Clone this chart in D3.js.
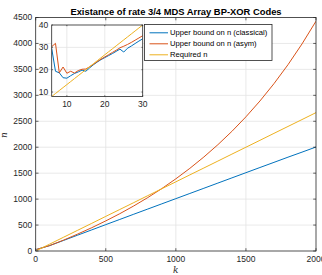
<!DOCTYPE html>
<html><head><meta charset="utf-8">
<script src="https://cdn.jsdelivr.net/npm/d3@7"></script>
<style>html,body{margin:0;padding:0;background:#fff;}svg{display:block;}</style>
</head><body>
<script>
// ---- data ----
const title = "Existance of rate 3/4 MDS Array BP-XOR Codes";
const seriesNames = ["Upper bound on n (classical)", "Upper bound on n (asym)", "Required n"];
const colors = ["#0072BD", "#D95319", "#EDB120"];

const kMain = [6, 100, 200, 300, 400, 500, 600, 700, 800, 900, 1000, 1100, 1200, 1300, 1400, 1500, 1600, 1700, 1800, 1900, 2000];
const classicalMain = [30, 104, 205, 306, 407, 508, 608, 709, 809, 909, 1009, 1109, 1209, 1309, 1409, 1509, 1609, 1708, 1808, 1905, 2004];
const asymMain = [30, 105, 211, 327, 449, 580, 719, 869, 1030, 1203, 1391, 1593, 1812, 2049, 2306, 2586, 2891, 3225, 3590, 3990, 4429];
const requiredMain = [8, 133, 267, 400, 533, 667, 800, 933, 1067, 1200, 1333, 1467, 1600, 1733, 1867, 2000, 2133, 2267, 2400, 2533, 2667];

const kInset = [6, 7, 8, 9, 10, 11, 12, 13, 14, 15, 16, 17, 18, 19, 20, 21, 22, 23, 24, 25, 26, 27, 28, 29, 30];
const classicalInset = [29.5, 19.3, 18.6, 16.4, 16.2, 17.3, 18.3, 19.0, 19.8, 19.3, 20.8, 22.2, 23.4, 24.5, 25.4, 26.3, 27.2, 28.2, 29.2, 27.9, 29.6, 30.6, 31.7, 32.8, 33.8];
const asymInset = [30.3, 31.8, 18.6, 21.2, 18.4, 19.3, 18.5, 19.6, 20.2, 20.3, 21.3, 22.4, 23.6, 24.7, 25.7, 26.7, 27.7, 28.7, 29.8, 30.5, 31.3, 32.2, 33.2, 34.2, 35.2];
const requiredInset = [8, 9.33, 10.67, 12, 13.33, 14.67, 16, 17.33, 18.67, 20, 21.33, 22.67, 24, 25.33, 26.67, 28, 29.33, 30.67, 32, 33.33, 34.67, 36, 37.33, 38.67, 40];

const xTicksMain = [0, 500, 1000, 1500, 2000];
const yTicksMain = [0, 500, 1000, 1500, 2000, 2500, 3000, 3500, 4000, 4500];
const xTicksInset = [10, 20, 30];
const yTicksInset = [10, 20, 30, 40];

// ---- layout ----
const W = 322, H = 275;
const axisColor = "#262626", gridColor = "#e3e3e3";
const svg = d3.select("body").append("svg").attr("width", W).attr("height", H)
  .style("font-family", "'Liberation Sans', Arial, Helvetica, sans-serif");

function drawAxes(g, box, xDomain, yDomain, xTicks, yTicks, tickLen, seriesList, kArr, fs) {
  const x = d3.scaleLinear().domain(xDomain).range([box.x0, box.x1]);
  const y = d3.scaleLinear().domain(yDomain).range([box.y1, box.y0]);
  g.append("rect").attr("x", box.x0).attr("y", box.y0)
    .attr("width", box.x1 - box.x0).attr("height", box.y1 - box.y0).attr("fill", "#fff");
  // grid
  g.append("g").selectAll("line").data(xTicks.filter(t => x(t) > box.x0 + 0.5 && x(t) < box.x1 - 0.5)).join("line")
    .attr("x1", d => x(d)).attr("x2", d => x(d)).attr("y1", box.y0).attr("y2", box.y1)
    .attr("stroke", gridColor).attr("stroke-width", 0.8);
  g.append("g").selectAll("line").data(yTicks.filter(t => y(t) > box.y0 + 0.5 && y(t) < box.y1 - 0.5)).join("line")
    .attr("y1", d => y(d)).attr("y2", d => y(d)).attr("x1", box.x0).attr("x2", box.x1)
    .attr("stroke", gridColor).attr("stroke-width", 0.8);
  // lines
  const clipId = "clip" + Math.round(box.x0);
  g.append("clipPath").attr("id", clipId).append("rect")
    .attr("x", box.x0).attr("y", box.y0).attr("width", box.x1 - box.x0).attr("height", box.y1 - box.y0);
  const line = d3.line().x(d => x(d[0])).y(d => y(d[1]));
  seriesList.forEach((s, i) => {
    g.append("path").datum(kArr.map((k, j) => [k, s[j]]))
      .attr("d", line).attr("fill", "none").attr("stroke", colors[i]).attr("stroke-width", 1)
      .attr("clip-path", `url(#${clipId})`);
  });
  // ticks inside, all four sides
  const tk = g.append("g").attr("stroke", axisColor).attr("stroke-width", 0.7);
  xTicks.forEach(t => {
    tk.append("line").attr("x1", x(t)).attr("x2", x(t)).attr("y1", box.y1).attr("y2", box.y1 - tickLen);
    tk.append("line").attr("x1", x(t)).attr("x2", x(t)).attr("y1", box.y0).attr("y2", box.y0 + tickLen);
  });
  yTicks.forEach(t => {
    tk.append("line").attr("y1", y(t)).attr("y2", y(t)).attr("x1", box.x0).attr("x2", box.x0 + tickLen);
    tk.append("line").attr("y1", y(t)).attr("y2", y(t)).attr("x1", box.x1).attr("x2", box.x1 - tickLen);
  });
  // box
  g.append("rect").attr("x", box.x0).attr("y", box.y0)
    .attr("width", box.x1 - box.x0).attr("height", box.y1 - box.y0)
    .attr("fill", "none").attr("stroke", axisColor).attr("stroke-width", 0.8);
  // tick labels
  g.append("g").selectAll("text").data(xTicks).join("text")
    .attr("x", d => x(d)).attr("y", box.y1 + 10.5).attr("text-anchor", "middle")
    .attr("font-size", fs).attr("fill", axisColor).text(d => d);
  g.append("g").selectAll("text").data(yTicks).join("text")
    .attr("x", box.x0 - 3.5).attr("y", d => y(d)).attr("dy", "0.35em").attr("text-anchor", "end")
    .attr("font-size", fs).attr("fill", axisColor).text(d => d);
  return {x, y};
}

// main axes
const mainBox = {x0: 35.7, x1: 316, y0: 17.5, y1: 251};
const gMain = svg.append("g");
drawAxes(gMain, mainBox, [0, 2000], [0, 4500], xTicksMain, yTicksMain, 2.8,
  [classicalMain, asymMain, requiredMain], kMain, 8.5);

// title
svg.append("text").attr("x", 176).attr("y", 14.5).attr("text-anchor", "middle")
  .attr("font-size", 9.4).attr("font-weight", "bold").attr("fill", "#000").text(title);
// axis labels
svg.append("text").attr("x", (mainBox.x0 + mainBox.x1) / 2).attr("y", 273)
  .attr("text-anchor", "middle").attr("font-family", "'DejaVu Serif', 'Liberation Serif', serif")
  .attr("font-style", "italic").attr("font-size", 9).attr("fill", axisColor).text("k");
svg.append("text").attr("transform", "translate(7,135) rotate(-90)")
  .attr("text-anchor", "middle").attr("font-family", "'DejaVu Serif', 'Liberation Serif', serif")
  .attr("font-style", "italic").attr("font-size", 9).attr("fill", axisColor).text("n");

// inset axes
const insetBox = {x0: 51.7, x1: 142.7, y0: 25, y1: 96.5};
const gInset = svg.append("g");
drawAxes(gInset, insetBox, [6, 30], [8, 40], xTicksInset, yTicksInset, 1.2,
  [classicalInset, asymInset, requiredInset], kInset, 8.5);

// legend
const lg = svg.append("g");
const lb = {x: 144.5, y: 24.5, w: 127.5, h: 36};
lg.append("rect").attr("x", lb.x).attr("y", lb.y).attr("width", lb.w).attr("height", lb.h)
  .attr("fill", "#fff").attr("stroke", axisColor).attr("stroke-width", 0.8);
seriesNames.forEach((name, i) => {
  const yy = lb.y + 8.3 + i * 11;
  lg.append("line").attr("x1", lb.x + 5).attr("x2", lb.x + 23.5).attr("y1", yy).attr("y2", yy)
    .attr("stroke", colors[i]).attr("stroke-width", 1);
  lg.append("text").attr("x", lb.x + 25.5).attr("y", yy).attr("dy", "0.35em")
    .attr("font-size", 7.65).attr("fill", "#000").text(name);
});
</script>
</body></html>
